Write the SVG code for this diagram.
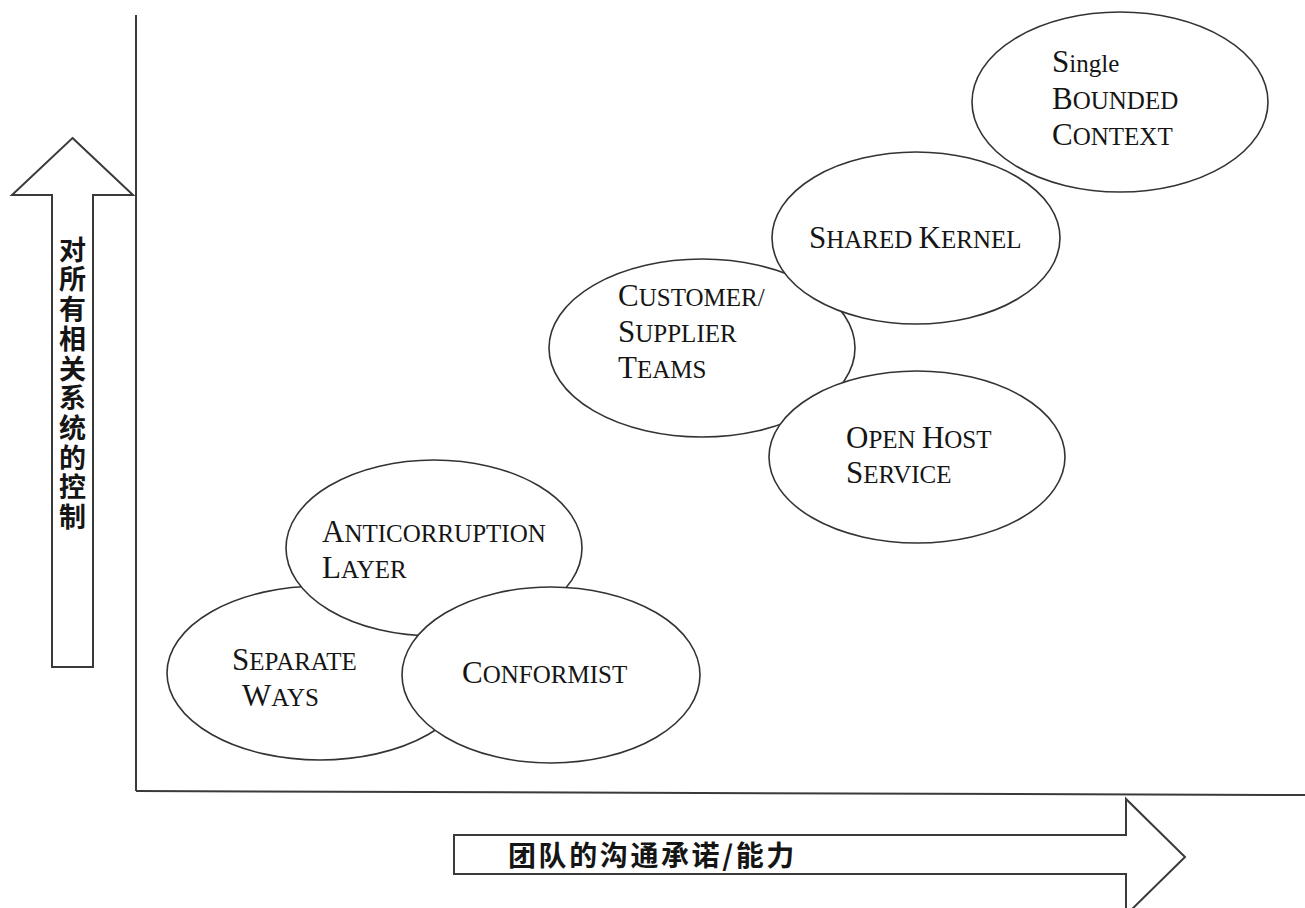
<svg xmlns="http://www.w3.org/2000/svg" width="1305" height="908" viewBox="0 0 1305 908">
<style>
.bg{fill:#ffffff}
.ax{stroke:#3a3a3a;stroke-width:2;fill:none}
.arr{fill:#ffffff;stroke:#3a3a3a;stroke-width:2;stroke-linejoin:miter}
.el{fill:#ffffff;stroke:#333333;stroke-width:1.6}
.t{font-family:"Liberation Serif","Times New Roman",serif;font-size:25px;fill:#151515}
.b{font-size:31px}
.cjk{font-family:"Noto Sans CJK SC","Noto Sans CJK JP",sans-serif;fill:#151515;font-weight:bold}
</style>
<rect class="bg" x="0" y="0" width="1305" height="908"/>
<g id="axes">
  <line class="ax" x1="136" y1="15" x2="136" y2="791"/>
  <line class="ax" x1="136" y1="791" x2="1305" y2="795"/>
</g>
<g id="y-arrow">
  <polygon class="arr" points="72.5,138 133,195 93,195 93,667 52,667 52,195 12,195"/>
  <text class="cjk" x="72.5" y="236" font-size="27" letter-spacing="2.7" writing-mode="vertical-rl">对所有相关系统的控制</text>
</g>
<g id="x-arrow">
  <polygon class="arr" points="454,835 1126,835 1126,799 1185,857 1126,915 1126,874 454,874"/>
  <text class="cjk" x="508" y="866" font-size="28" letter-spacing="2.6">团队的沟通承诺/能力</text>
</g>
<g id="separate-ways">
  <ellipse class="el" cx="320" cy="673" rx="153" ry="87"/>
  <text class="t"><tspan x="232" y="670"><tspan class="b">S</tspan>EPARATE</tspan><tspan x="242" y="706"><tspan class="b">W</tspan>AYS</tspan></text>
</g>
<g id="anticorruption-layer">
  <ellipse class="el" cx="434" cy="548" rx="148" ry="88"/>
  <text class="t"><tspan x="322" y="542"><tspan class="b">A</tspan>NTICORRUPTION</tspan><tspan x="322" y="578"><tspan class="b">L</tspan>AYER</tspan></text>
</g>
<g id="conformist">
  <ellipse class="el" cx="551" cy="675" rx="149" ry="88"/>
  <text class="t" x="462" y="683"><tspan class="b">C</tspan>ONFORMIST</text>
</g>
<g id="customer-supplier">
  <ellipse class="el" cx="702" cy="348" rx="153" ry="89"/>
  <text class="t"><tspan x="618" y="306"><tspan class="b">C</tspan>USTOMER/</tspan><tspan x="618" y="342"><tspan class="b">S</tspan>UPPLIER</tspan><tspan x="618" y="378"><tspan class="b">T</tspan>EAMS</tspan></text>
</g>
<g id="open-host-service">
  <ellipse class="el" cx="917" cy="457" rx="148" ry="86"/>
  <text class="t"><tspan x="846" y="448"><tspan class="b">O</tspan>PEN <tspan class="b">H</tspan>OST</tspan><tspan x="846" y="483"><tspan class="b">S</tspan>ERVICE</tspan></text>
</g>
<g id="shared-kernel">
  <ellipse class="el" cx="916" cy="238" rx="144" ry="86"/>
  <text class="t" x="809" y="248"><tspan class="b">S</tspan>HARED <tspan class="b">K</tspan>ERNEL</text>
</g>
<g id="single-bounded-context">
  <ellipse class="el" cx="1120" cy="102" rx="148" ry="90"/>
  <text class="t"><tspan x="1052" y="72"><tspan class="b">S</tspan>ingle</tspan><tspan x="1052" y="109"><tspan class="b">B</tspan>OUNDED</tspan><tspan x="1052" y="145"><tspan class="b">C</tspan>ONTEXT</tspan></text>
</g>
</svg>
